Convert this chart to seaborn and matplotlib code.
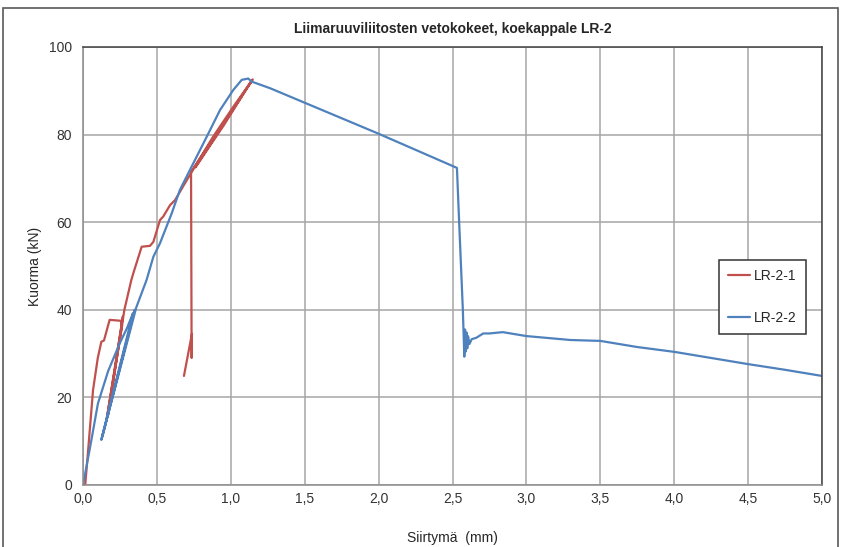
import matplotlib
matplotlib.use("Agg")
import matplotlib.pyplot as plt
from matplotlib.patches import Rectangle
from matplotlib.ticker import FuncFormatter, MultipleLocator
import seaborn as sns

# LR-2-1 (siirtymä mm, kuorma kN)
lr21_x = [0.0, 0.015, 0.03, 0.068, 0.10, 0.124, 0.142, 0.18, 0.255, 0.265,
          0.16, 0.27, 0.17, 0.28, 0.327, 0.34, 0.397, 0.453, 0.476, 0.521,
          0.543, 0.589, 0.622, 0.69, 0.75, 0.88, 1.02, 1.148,
          0.76, 0.95, 1.14, 0.731, 0.735, 0.737, 0.683]
lr21_y = [0.0, 0.0, 6.0, 21.7, 29.0, 32.7, 33.0, 37.7, 37.5, 36.5,
          15.0, 38.5, 16.0, 40.0, 46.8, 48.3, 54.4, 54.6, 55.5, 60.5,
          61.3, 63.9, 65.0, 68.9, 72.3, 79.5, 86.5, 92.6,
          72.5, 82.0, 92.2, 71.5, 29.0, 34.5, 24.9]

# LR-2-2
lr22_x = [0.0, 0.05, 0.101, 0.17, 0.248, 0.30, 0.338, 0.124, 0.35, 0.13,
          0.36, 0.43, 0.476, 0.521, 0.60, 0.656, 0.735, 0.837, 0.927, 1.017,
          1.074, 1.118, 1.141, 1.265, 2.0, 2.53, 2.545, 2.57, 2.58,
          2.585, 2.59, 2.595, 2.60, 2.605, 2.615, 2.63, 2.66, 2.708, 2.75,
          2.84, 3.0, 3.3, 3.5, 3.75, 4.0, 4.25, 4.5, 4.75, 5.0]
lr22_y = [0.0, 9.0, 18.6, 26.0, 32.3, 36.0, 39.2, 10.3, 40.0, 11.0,
          40.5, 46.8, 52.1, 55.2, 62.0, 67.4, 72.7, 79.5, 85.6, 90.2,
          92.5, 92.8, 92.1, 90.6, 80.2, 72.4, 60.0, 40.0, 29.3,
          35.5, 30.5, 34.8, 31.2, 34.0, 32.2, 33.3, 33.6, 34.6, 34.6,
          34.9, 34.0, 33.1, 32.9, 31.5, 30.4, 29.0, 27.6, 26.3, 24.9]

red = "#C0504D"
blue = "#4F81BD"

sns.set_theme(style="white")
plt.rcParams["font.family"] = ["Liberation Sans", "DejaVu Sans"]

fig = plt.figure(figsize=(8.43, 5.47), dpi=100)
ax = fig.add_axes([83 / 843, 1 - 485 / 547, (822 - 83) / 843, (485 - 47) / 547])

sns.lineplot(x=lr21_x, y=lr21_y, sort=False, estimator=None, color=red,
             linewidth=1.6, label="LR-2-1", ax=ax)
sns.lineplot(x=lr22_x, y=lr22_y, sort=False, estimator=None, color=blue,
             linewidth=1.6, label="LR-2-2", ax=ax)

ax.set_xlim(0, 5)
ax.set_ylim(0, 100)
ax.xaxis.set_major_locator(MultipleLocator(0.5))
ax.yaxis.set_major_locator(MultipleLocator(20))
ax.xaxis.set_major_formatter(FuncFormatter(lambda v, p: f"{v:.1f}".replace(".", ",")))
ax.grid(True, color="#A6A6A6", linewidth=1.1)
ax.set_axisbelow(True)

ax.tick_params(axis="both", labelsize=10, labelcolor="#333333", color="#888888",
               length=4, width=1, direction="out", pad=4)
ax.tick_params(axis="x", pad=1)

for s in ["left", "bottom"]:
    ax.spines[s].set_color("#8C8C8C")
    ax.spines[s].set_linewidth(1.1)
for s in ["top", "right"]:
    ax.spines[s].set_color("#404040")
    ax.spines[s].set_linewidth(1.1)

ax.set_title("Liimaruuviliitosten vetokokeet, koekappale LR-2",
             fontsize=10, fontweight="bold", pad=10)
ax.set_xlabel("Siirtymä  (mm)", fontsize=10, labelpad=18)
ax.set_ylabel("Kuorma (kN)", fontsize=10, labelpad=5)

leg = ax.legend(loc="center right", bbox_to_anchor=(806 / 843, 1 - 297 / 547),
                bbox_transform=fig.transFigure, fontsize=10, frameon=True,
                fancybox=False, framealpha=1, edgecolor="#333333",
                labelspacing=2.0, handlelength=1.6, borderpad=0.65,
                handletextpad=0.3, borderaxespad=0)
leg.get_frame().set_linewidth(1.1)

# chart area border
fig.patches.append(Rectangle((3 / 843, -0.02), 835 / 843, 1 - 8 / 547 + 0.02,
                             transform=fig.transFigure, fill=False,
                             edgecolor="#595959", linewidth=1.2))

fig.savefig("out.png", dpi=100)
